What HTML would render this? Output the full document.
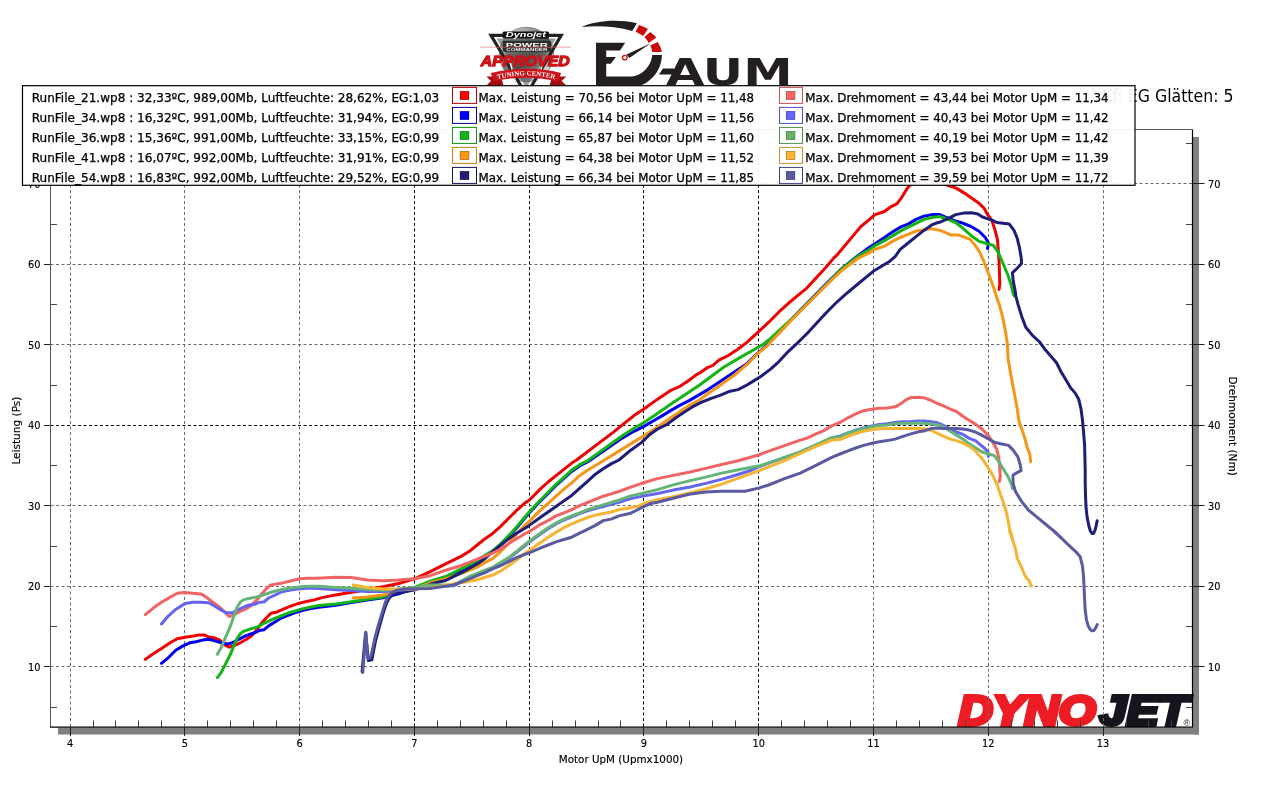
<!DOCTYPE html>
<html lang="de"><head><meta charset="utf-8"><title>Dynojet Leistungsdiagramm</title>
<style>html,body{margin:0;padding:0;background:#fff;overflow:hidden}svg{display:block}text{fill:#000}</style>
</head><body>
<svg width="1270" height="795" viewBox="0 0 1270 795" font-family="'DejaVu Sans Condensed','Liberation Sans',sans-serif">
<rect width="1270" height="795" fill="#fff"/>
<defs>
<linearGradient id="chrome" x1="0" y1="0" x2="1" y2="1">
<stop offset="0" stop-color="#f2f2f2"/><stop offset="0.3" stop-color="#9a9a9a"/><stop offset="0.55" stop-color="#555"/><stop offset="0.8" stop-color="#c8c8c8"/><stop offset="1" stop-color="#eee"/>
</linearGradient>
<path id="ribbonArc" d="M493.5 80.2 Q526.3 70.6 559 80.2"/>
<clipPath id="aboveLegend"><rect x="0" y="0" width="1270" height="85.4"/></clipPath>
</defs>
<g id="badge" clip-path="url(#aboveLegend)" aria-label="Dynojet Power Commander Approved Tuning Center">
<circle cx="526.5" cy="54.4" r="27.2" fill="url(#chrome)" stroke="#777" stroke-width="0.8"/>
<path d="M491 35.3H561.2L526.3 95Z" fill="none" stroke="#222" stroke-width="3.2" stroke-linejoin="miter"/>
<path d="M496.5 38.5H556L526.3 88Z" fill="#4a4a4a" fill-opacity="0.55"/>
<path d="M517 88L510 62M536 88L543 62" stroke="#eee" stroke-width="1.6" fill="none"/>
<rect x="502.6" y="31.6" width="46.4" height="6.8" rx="1.5" fill="#111"/>
<text x="525.8" y="37.1" font-family="'Liberation Sans',sans-serif" font-weight="bold" font-style="italic" font-size="6.4" text-anchor="middle" textLength="40" lengthAdjust="spacingAndGlyphs" style="fill:#fff">Dynojet</text>
<rect x="502.8" y="40.8" width="48.2" height="11" rx="1" fill="#2e2e2e"/>
<text x="526.8" y="46.6" font-family="'Liberation Sans',sans-serif" font-weight="bold" font-size="4.6" text-anchor="middle" textLength="42" lengthAdjust="spacingAndGlyphs" style="fill:#fff">POWER</text>
<text x="526.8" y="50.6" font-family="'Liberation Sans',sans-serif" font-weight="bold" font-size="3.4" text-anchor="middle" textLength="41" lengthAdjust="spacingAndGlyphs" style="fill:#eee">COMMANDER</text>
<path d="M480.2 47.2H571" stroke="#e26a6a" stroke-width="0.6"/>
<text x="480.8" y="65.6" font-family="'Liberation Sans',sans-serif" font-weight="bold" font-style="italic" font-size="15.5" textLength="89" lengthAdjust="spacingAndGlyphs" style="fill:#cd1219;stroke:#cd1219;stroke-width:1.3;stroke-linejoin:round">APPROVED</text>
<path d="M486.4 76.6H501L503.5 85.6H486.4L491 81Z" fill="#a30d12"/>
<path d="M566.3 76.6H552L549.5 85.6H566.3L561.6 81Z" fill="#a30d12"/>
<path d="M490.8 73C514 67.4 539 67.4 561 73L558.3 81.6C538 76.4 514 76.4 493.6 81.6Z" fill="#cd1219"/>
<text font-family="'Liberation Serif',serif" font-weight="bold" font-size="6.6" style="fill:#fff"><textPath href="#ribbonArc" startOffset="50%" text-anchor="middle" textLength="58" lengthAdjust="spacingAndGlyphs">TUNING CENTER</textPath></text>
</g>
<g id="daum" clip-path="url(#aboveLegend)" aria-label="Daum">
<path d="M581.7 26.9C595 21.3 615.5 18.4 636.9 23.3L632.3 31C615 26 598 25.6 581.7 26.9Z" fill="#231f20"/>
<path d="M639 25.1Q644 26.6 647.9 29.1L643.1 36.1Q640 33.6 635.6 31.7Z" fill="#cc0a0a"/>
<path d="M650.2 32Q653.8 34.6 656.4 37.6L648.7 43Q646.8 39.8 644.4 37.1Z" fill="#cc0a0a"/>
<path d="M657.7 41.9Q660.8 46.6 662 52H652.3Q651.8 48.6 650.2 45.6Z" fill="#cc0a0a"/>
<path d="M596 42.8H625.2L620 50.4H606.2V57.1H615.9L610.8 63.7H606.2V76.5H632.3C641 75.6 651.3 67 652.3 55H662C661.6 66.5 656 76.5 646.5 82.4C642 85.2 638 86.6 632 87.4H596Z" fill="#231f20"/>
<path d="M650.7 43.3L626.5 54.6L629.4 57.9Z" fill="#231f20"/>
<circle cx="624.8" cy="57.6" r="2.3" fill="#fff" stroke="#cc0a0a" stroke-width="1.3"/>
<path d="M658.9 74.4L663 68.6H674V74.4Z" fill="#231f20"/>
<text x="666" y="84.9" font-family="'DejaVu Sans','Liberation Sans',sans-serif" font-weight="bold" font-size="37" textLength="126.5" lengthAdjust="spacingAndGlyphs" style="fill:#231f20">AUM</text>
</g>

<text x="1102.3" y="102.4" font-size="17.2" textLength="131.2" lengthAdjust="spacingAndGlyphs">Kf: EG Glätten: 5</text>
<rect x="1193" y="137" width="6" height="597.5" fill="#808080"/>
<rect x="58" y="727.6" width="1141" height="6.9" fill="#808080"/>
<rect x="50.5" y="129.5" width="1142.0" height="597.6" fill="#fff"/>
<g id="dynojet" font-family="'Liberation Sans',sans-serif" font-weight="bold" font-style="italic" font-size="41.8" stroke-linejoin="miter">
<text x="958.4" y="725.0" textLength="137.5" lengthAdjust="spacingAndGlyphs" style="fill:#ed1c24;stroke:#ed1c24;stroke-width:4">DYNO</text>
<text x="1099.6" y="725.0" textLength="88.5" lengthAdjust="spacingAndGlyphs" style="fill:#15151d;stroke:#15151d;stroke-width:4">JET</text>
<text x="1183.6" y="725.6" font-size="9" font-style="normal" font-weight="normal" style="fill:#15151d">®</text>
</g>

<g stroke-width="1" stroke-dasharray="3 2.5" fill="none"><line x1="70.5" y1="129.5" x2="70.5" y2="727.1" stroke="#6c6c6c"/><line x1="184.5" y1="129.5" x2="184.5" y2="727.1" stroke="#6c6c6c"/><line x1="299.5" y1="129.5" x2="299.5" y2="727.1" stroke="#6c6c6c"/><line x1="414.5" y1="129.5" x2="414.5" y2="727.1" stroke="#000"/><line x1="529.5" y1="129.5" x2="529.5" y2="727.1" stroke="#000"/><line x1="643.5" y1="129.5" x2="643.5" y2="727.1" stroke="#000"/><line x1="758.5" y1="129.5" x2="758.5" y2="727.1" stroke="#000"/><line x1="873.5" y1="129.5" x2="873.5" y2="727.1" stroke="#6c6c6c"/><line x1="988.5" y1="129.5" x2="988.5" y2="727.1" stroke="#6c6c6c"/><line x1="1103.5" y1="129.5" x2="1103.5" y2="727.1" stroke="#6c6c6c"/><line x1="50.5" y1="666.5" x2="1192.5" y2="666.5" stroke="#6c6c6c"/><line x1="50.5" y1="586.5" x2="1192.5" y2="586.5" stroke="#6c6c6c"/><line x1="50.5" y1="505.5" x2="1192.5" y2="505.5" stroke="#6c6c6c"/><line x1="50.5" y1="425.5" x2="1192.5" y2="425.5" stroke="#000"/><line x1="50.5" y1="344.5" x2="1192.5" y2="344.5" stroke="#6c6c6c"/><line x1="50.5" y1="264.5" x2="1192.5" y2="264.5" stroke="#6c6c6c"/><line x1="50.5" y1="183.5" x2="1192.5" y2="183.5" stroke="#6c6c6c"/></g>
<path d="M93.5 727.1V720.4M115.5 727.1V720.4M138.5 727.1V720.4M161.5 727.1V720.4M207.5 727.1V720.4M230.5 727.1V720.4M253.5 727.1V720.4M276.5 727.1V720.4M322.5 727.1V720.4M345.5 727.1V720.4M368.5 727.1V720.4M391.5 727.1V720.4M437.5 727.1V720.4M460.5 727.1V720.4M483.5 727.1V720.4M506.5 727.1V720.4M552.5 727.1V720.4M575.5 727.1V720.4M598.5 727.1V720.4M620.5 727.1V720.4M666.5 727.1V720.4M689.5 727.1V720.4M712.5 727.1V720.4M735.5 727.1V720.4M781.5 727.1V720.4M804.5 727.1V720.4M827.5 727.1V720.4M850.5 727.1V720.4M896.5 727.1V720.4M919.5 727.1V720.4M942.5 727.1V720.4M965.5 727.1V720.4M1011.5 727.1V720.4M1034.5 727.1V720.4M1057.5 727.1V720.4M1080.5 727.1V720.4M1126.5 727.1V720.4M1148.5 727.1V720.4M1171.5 727.1V720.4M50.5 707.5H57.0M1192.5 707.5H1186.0M50.5 626.5H57.0M1192.5 626.5H1186.0M50.5 546.5H57.0M1192.5 546.5H1186.0M50.5 465.5H57.0M1192.5 465.5H1186.0M50.5 385.5H57.0M1192.5 385.5H1186.0M50.5 304.5H57.0M1192.5 304.5H1186.0M50.5 224.5H57.0M1192.5 224.5H1186.0M50.5 143.5H57.0M1192.5 143.5H1186.0" stroke="#444" stroke-width="1" fill="none"/>
<path d="M70.5 727.1V736.1M184.5 727.1V736.1M299.5 727.1V736.1M414.5 727.1V736.1M529.5 727.1V736.1M643.5 727.1V736.1M758.5 727.1V736.1M873.5 727.1V736.1M988.5 727.1V736.1M1103.5 727.1V736.1M44.0 666.5H50.5M1192.5 666.5H1204.5M44.0 586.5H50.5M1192.5 586.5H1204.5M44.0 505.5H50.5M1192.5 505.5H1204.5M44.0 425.5H50.5M1192.5 425.5H1204.5M44.0 344.5H50.5M1192.5 344.5H1204.5M44.0 264.5H50.5M1192.5 264.5H1204.5M44.0 183.5H50.5M1192.5 183.5H1204.5" stroke="#222" stroke-width="1" fill="none"/>
<g fill="none" stroke-width="3.0" stroke-linejoin="round" stroke-linecap="round">
<path d="M145.3 659.4L153.6 653.5L161.5 648.4L169.4 643.2L177.2 638.8L185.1 637.2L193.0 636.1L199.3 634.9L204.0 634.9L208.7 636.9L215.0 638.0L219.8 640.1L224.5 644.8L229.2 647.2L233.9 645.6L240.2 642.8L246.5 639.3L251.3 636.1L256.0 630.6L260.7 624.3L265.4 618.8L270.9 613.3L276.5 612.2L282.8 609.4L290.6 606.2L298.5 603.4L306.4 601.5L314.3 599.9L322.1 597.6L335.7 594.9L351.5 592.2L367.2 589.8L383.0 586.7L398.7 583.5L414.5 578.8L430.2 571.7L445.7 563.9L461.5 556.1L469.4 551.3L477.2 545.0L485.1 538.7L493.0 533.2L500.9 526.1L508.7 518.3L516.6 510.4L524.5 503.3L529.2 500.2L540.2 489.1L548.1 482.0L556.0 475.7L563.9 469.4L571.7 463.1L576.5 460.0L613.5 432.1L623.0 424.3L634.0 415.6L643.5 409.3L654.5 401.4L662.4 395.9L670.2 390.7L679.7 386.5L689.1 380.2L695.4 375.4L700.0 372.8L707.9 367.3L712.6 365.7L718.9 360.2L728.3 355.5L737.8 349.2L747.2 342.1L758.3 331.9L767.7 323.2L778.7 312.2L788.2 303.5L797.6 295.7L807.1 287.8L816.5 277.6L826.0 267.3L833.9 257.9L837.2 254.8L845.1 245.4L853.0 235.9L860.9 226.5L868.7 220.2L875.0 214.6L884.5 211.5L890.8 206.8L897.1 203.6L901.8 197.3L906.5 189.4L909.7 185.5L914.0 182.3L921.0 180.0L929.0 178.9L937.0 180.2L943.0 183.0L947.9 185.5L955.7 187.9L963.6 192.6L971.5 198.1L979.4 203.6L984.1 208.3L987.2 213.9L992.0 220.9L995.1 230.4L997.5 239.8L998.3 250.9L999.1 261.9L999.5 274.5L999.8 283.9L999.1 289.4" stroke="#f00000"/>
<path d="M161.5 663.4L167.8 658.2L175.7 650.3L183.5 645.6L189.8 642.8L196.1 641.7L202.4 640.1L208.7 639.3L215.0 640.9L221.3 642.8L227.6 644.0L232.4 642.8L238.7 639.3L245.0 636.1L249.7 634.3L254.4 633.0L259.1 630.6L263.9 629.8L268.6 625.9L274.9 622.0L281.2 618.0L287.5 615.7L295.4 612.5L303.2 610.2L311.1 608.6L319.0 607.3L335.7 605.3L351.5 602.4L367.2 600.1L383.0 597.7L398.7 593.8L414.5 588.3L430.2 582.0L445.7 577.6L461.5 569.8L477.2 561.9L485.1 556.4L493.0 551.7L500.9 544.6L508.7 536.7L516.6 528.0L524.5 518.6L529.2 513.1L540.2 501.3L548.1 493.4L556.0 485.5L563.9 478.4L571.7 471.5L579.6 466.0L587.5 462.0L623.0 437.6L634.0 431.3L643.5 426.6L654.5 420.3L662.4 415.6L670.2 410.9L679.7 405.4L689.1 400.6L698.6 395.1L708.0 389.6L717.5 383.3L726.9 377.0L729.9 375.0L747.2 363.4L758.3 352.7L767.7 344.5L778.7 333.0L794.5 316.1L810.2 300.1L826.0 284.0L841.7 268.6L857.5 256.0L868.7 247.7L875.0 243.8L884.5 237.5L892.4 232.0L900.2 227.2L908.1 224.1L916.0 219.4L923.9 216.2L931.7 214.6L939.6 214.6L947.5 217.8L955.4 220.9L963.2 223.3L971.1 226.5L979.0 231.2L985.3 237.5L988.4 243.0L987.6 248.5" stroke="#0000f0"/>
<path d="M217.4 677.6L221.3 672.4L226.1 662.9L230.8 653.5L233.9 645.6L237.1 638.5L240.2 633.8L243.4 631.4L249.7 629.1L256.0 627.5L263.9 623.5L271.7 619.6L279.6 616.5L287.5 613.3L295.4 610.9L303.2 608.6L311.1 607.0L319.0 605.4L335.7 604.0L351.5 601.7L367.2 599.3L383.0 596.9L387.7 595.4L398.7 592.2L414.5 587.5L430.2 581.2L445.7 576.5L461.5 568.7L477.2 560.8L485.1 555.3L493.0 550.6L500.9 543.5L508.7 535.6L516.6 526.9L524.5 517.5L529.2 512.0L540.2 500.2L548.1 492.3L556.0 484.4L563.9 477.3L571.7 470.2L579.6 464.7L587.5 460.8L623.0 435.3L634.0 428.2L643.5 422.7L654.5 415.6L662.4 410.1L670.2 404.6L679.7 398.3L689.1 392.0L698.6 385.7L723.6 367.3L739.4 357.9L752.0 350.8L763.0 344.5L770.9 338.2L778.7 330.8L786.6 323.7L794.5 316.5L810.2 300.7L826.0 285.0L841.7 268.9L857.5 256.6L868.7 250.1L875.0 245.8L884.5 240.6L892.4 235.9L900.2 231.2L908.1 227.2L916.0 223.3L923.9 219.4L931.7 217.5L939.6 216.5L947.9 219.4L955.7 222.5L963.6 228.8L971.5 235.9L979.4 241.4L987.2 243.8L993.5 245.4L998.3 252.4L1003.0 263.5L1007.7 274.5L1010.9 283.9L1013.2 293.4L1014.2 296.0" stroke="#14b414"/>
<path d="M353.1 598.0L367.2 596.9L383.0 594.9L387.7 593.8L398.7 591.7L414.5 588.6L430.2 582.8L445.7 578.9L461.5 573.4L477.2 567.1L485.1 562.4L493.0 558.4L500.9 551.3L508.7 543.5L516.6 534.0L524.5 525.4L529.2 521.4L540.2 510.4L548.1 503.3L556.0 496.2L563.9 489.1L571.7 482.8L579.6 475.7L587.5 470.2L595.4 465.5L603.2 460.8L630.7 443.9L643.5 436.1L654.5 429.0L662.4 423.5L670.2 418.0L679.7 411.7L689.1 405.4L698.6 400.6L708.0 393.5L717.5 387.2L726.9 380.2L734.6 375.0L747.2 364.2L758.3 353.1L767.7 345.3L778.7 333.5L794.5 316.9L810.2 301.2L826.0 285.4L841.7 270.5L857.5 258.7L868.7 253.2L875.0 249.3L884.5 246.1L892.4 241.4L900.2 237.5L908.1 234.3L916.0 231.2L923.9 229.6L931.7 228.8L940.0 230.4L946.3 232.8L951.0 235.1L958.9 235.1L965.2 237.5L969.9 239.1L974.6 244.6L979.4 251.7L984.1 261.9L988.8 274.5L993.5 287.1L997.5 299.7L995.9 295.0L999.8 306.0L1003.0 318.6L1005.4 331.2L1007.4 343.8L1008.0 358.0L1010.1 370.6L1012.4 383.2L1014.8 395.8L1017.2 408.4L1018.7 420.0L1021.9 429.4L1025.0 438.9L1027.4 448.3L1029.8 453.9L1030.6 461.7" stroke="#f59619"/>
<path d="M362.1 671.7L365.6 633.0L368.4 660.6L371.8 659.9L375.5 641.0L379.5 626.0L383.5 612.0L386.5 603.0L389.5 597.5L393.5 594.0L399.0 592.5L406.0 591.5L414.0 590.0L430.2 584.3L438.1 582.3L445.7 580.5L461.5 572.6L477.2 563.9L485.1 558.4L493.0 551.3L500.9 545.0L508.7 538.7L516.6 533.2L524.5 528.5L529.2 525.4L540.2 517.5L548.1 512.0L556.0 506.5L563.9 500.9L571.7 495.4L579.6 488.3L587.5 481.3L595.4 474.2L603.2 468.7L611.1 463.9L619.0 460.0L630.7 450.2L641.7 442.4L649.8 434.5L657.6 429.0L667.1 424.3L676.5 417.2L686.0 410.9L692.3 406.9L701.7 402.2L711.2 398.3L720.6 395.1L730.1 391.2L738.0 389.6L745.8 385.7L753.7 380.9L760.0 377.0L770.9 368.9L778.7 361.8L788.2 351.6L797.6 342.9L807.1 333.5L816.5 323.2L826.0 313.0L835.4 303.5L844.9 294.9L854.3 287.0L863.8 279.1L873.2 271.3L881.1 266.5L889.0 261.8L895.3 256.3L900.2 249.3L908.1 243.0L916.0 236.7L923.9 230.4L931.7 224.9L938.0 222.5L940.0 222.2L947.9 218.6L955.7 214.6L963.6 213.1L971.5 212.8L977.8 213.9L982.5 217.0L987.2 218.6L992.0 220.2L996.7 222.5L1003.0 223.3L1009.3 224.1L1014.0 230.4L1017.2 238.3L1019.5 247.7L1021.1 257.2L1021.6 263.5L1017.2 268.2L1012.4 272.9L1013.2 280.8L1015.6 293.4L1015.6 295.0L1018.0 304.4L1021.9 317.0L1025.8 327.3L1032.9 335.9L1039.2 341.5L1045.5 350.1L1051.8 357.2L1056.5 362.7L1061.3 372.2L1066.0 380.0L1070.7 387.9L1075.4 393.4L1078.6 398.9L1080.9 408.4L1082.5 420.0L1083.6 432.6L1084.6 445.2L1084.9 457.8L1085.2 470.4L1085.2 483.0L1085.5 495.6L1086.1 508.2L1087.2 517.6L1088.8 525.5L1090.4 531.0L1092.0 533.4L1093.5 533.4L1095.1 530.2L1096.2 525.5L1097.2 520.8" stroke="#1e1e78"/>
<path d="M145.3 614.6L153.6 607.8L161.5 602.3L169.4 597.6L177.2 593.3L184.3 592.4L193.0 593.3L200.9 593.9L205.6 596.8L211.9 601.5L218.2 606.2L224.5 611.7L229.2 616.5L233.9 614.9L240.2 611.3L246.5 608.6L251.3 605.4L256.0 600.7L260.7 595.2L265.4 589.7L270.2 585.3L276.5 583.9L282.8 582.9L290.6 581.0L298.5 579.0L306.4 578.2L314.3 578.3L322.1 577.9L335.7 577.2L351.5 577.6L367.2 580.1L383.0 580.7L398.7 580.1L414.5 578.8L430.2 575.7L445.7 570.2L461.5 565.5L469.4 562.4L477.2 559.2L485.1 556.1L493.0 552.9L500.9 549.0L508.7 543.5L516.6 538.7L524.5 534.0L529.2 531.7L540.2 524.6L548.1 520.6L556.0 515.9L563.9 512.8L571.7 509.6L579.6 505.7L587.5 502.5L595.4 499.4L603.2 496.2L611.1 493.9L619.0 491.5L630.7 487.2L641.7 483.3L657.5 478.6L673.2 475.4L689.0 472.3L705.7 468.4L721.5 464.5L737.2 461.0L758.5 455.0L768.7 451.1L784.5 445.6L800.2 440.1L808.1 437.7L816.0 433.8L823.9 430.6L831.7 425.9L840.0 422.5L847.9 417.8L855.7 413.9L863.6 410.7L873.1 409.1L879.4 408.3L887.2 408.0L895.1 406.8L899.8 404.4L906.1 399.7L910.9 397.6L918.7 397.3L925.0 398.1L931.3 400.5L937.6 403.6L943.9 406.0L950.2 409.1L956.5 411.5L962.8 416.2L969.1 420.2L975.4 424.1L981.7 428.8L988.0 435.1L992.8 442.2L996.7 449.3L998.7 457.2L999.8 468.2L1000.3 476.1L999.4 481.6" stroke="#f06464"/>
<path d="M161.5 624.0L167.8 616.5L175.7 609.4L185.1 603.4L193.0 602.3L200.9 602.3L208.7 602.8L215.0 606.2L221.3 610.2L226.1 612.8L232.4 612.8L238.7 609.4L245.0 606.5L249.7 605.0L254.4 604.3L259.1 602.3L263.9 602.0L268.6 598.0L274.9 595.2L281.2 592.0L287.5 590.5L295.4 589.2L303.2 588.6L311.1 588.1L319.0 588.4L335.7 589.8L351.5 590.6L367.2 591.4L383.0 591.4L398.7 590.6L414.5 588.6L430.2 586.4L453.6 585.8L469.4 577.5L477.2 574.3L485.1 571.2L493.0 568.0L500.9 563.3L508.7 558.6L516.6 552.3L524.5 546.0L529.2 542.0L540.2 534.2L548.1 528.7L556.0 523.9L563.9 520.0L571.7 516.9L579.6 513.7L587.5 510.9L595.4 508.5L603.2 506.5L611.1 504.3L619.0 502.2L630.7 498.6L641.7 496.4L657.5 493.5L673.2 490.1L689.0 487.2L705.7 483.4L721.5 479.4L737.2 474.7L749.8 470.8L758.5 466.9L768.7 463.2L784.5 457.7L800.2 452.2L816.0 445.1L831.7 438.0L840.0 435.9L847.9 432.8L855.7 430.1L863.6 428.0L873.1 425.7L879.4 424.4L887.2 423.8L895.1 422.5L903.0 421.7L910.9 421.4L918.7 420.9L925.0 420.9L931.3 421.7L937.6 422.8L943.9 425.7L950.2 428.8L956.5 432.0L962.8 434.3L969.1 438.3L975.4 440.6L980.2 444.6L984.9 448.5L988.0 451.7L988.3 456.4" stroke="#6464f0"/>
<path d="M217.4 654.3L221.3 647.2L226.1 636.1L230.8 625.1L233.9 615.7L237.1 607.0L240.2 602.3L243.4 599.9L249.7 598.3L256.0 597.1L263.9 594.9L271.7 592.0L279.6 590.0L287.5 588.6L295.4 587.6L303.2 586.5L311.1 586.2L319.0 586.2L335.7 587.5L351.5 588.3L367.2 589.5L383.0 590.2L398.7 589.1L414.5 587.5L430.2 585.1L453.6 585.0L469.4 576.5L477.2 573.4L485.1 570.2L493.0 567.1L500.9 562.4L508.7 557.6L516.6 551.3L524.5 545.0L529.2 541.1L540.2 533.2L548.1 527.7L556.0 523.0L563.9 519.1L571.7 515.9L579.6 512.8L587.5 509.6L595.4 507.2L603.2 504.9L611.1 502.5L619.0 500.2L630.7 495.9L641.7 493.5L657.5 489.6L673.2 484.9L689.0 480.9L705.7 477.1L721.5 473.1L737.2 470.0L758.5 466.1L768.7 462.9L784.5 457.4L800.2 451.9L816.0 444.8L831.7 437.7L840.0 436.7L847.9 433.2L855.7 430.7L863.6 428.5L873.1 426.5L879.4 425.4L887.2 424.9L895.1 423.8L903.0 423.3L910.9 423.3L918.7 423.0L925.0 423.6L931.3 424.1L937.6 424.9L943.9 426.9L950.2 431.2L956.5 435.1L962.8 439.1L969.1 443.8L975.4 447.7L981.7 451.7L988.0 453.7L994.3 455.6L999.1 461.9L1003.8 469.8L1008.5 477.6L1011.7 484.7L1012.6 488.7" stroke="#64b478"/>
<path d="M353.1 585.1L367.2 587.5L383.0 589.1L390.9 589.1L398.7 589.5L414.5 589.1L430.2 588.0L469.4 581.3L477.2 579.7L485.1 577.3L493.0 575.0L500.9 571.0L508.7 565.5L516.6 560.0L524.5 553.7L529.2 550.6L540.2 542.7L548.1 537.2L556.0 532.4L563.9 527.7L571.7 523.8L579.6 520.6L587.5 517.5L595.4 515.1L603.2 513.5L611.1 512.0L619.0 509.6L630.7 507.7L638.6 506.1L644.9 503.0L657.5 499.8L673.2 496.7L689.0 493.2L705.7 488.9L721.5 484.2L737.2 478.7L758.5 470.8L768.7 466.9L784.5 460.6L800.2 453.5L816.0 446.4L831.7 440.1L840.0 439.5L847.9 436.4L855.7 433.5L863.6 431.2L873.1 429.6L879.4 428.8L887.2 428.5L895.1 428.5L903.0 428.5L910.9 428.5L918.7 428.5L925.0 428.8L931.3 430.4L937.6 433.5L943.9 436.4L950.2 439.1L956.5 440.6L962.8 443.0L969.1 446.1L975.4 450.9L980.2 456.4L984.9 462.7L989.6 469.8L993.5 476.9L997.5 485.5L1000.6 495.0L1003.8 503.5L1006.9 514.5L1009.3 527.1L1012.4 538.1L1009.3 530.0L1012.4 539.4L1015.6 548.9L1017.2 558.3L1021.1 566.2L1025.0 575.7L1029.8 582.0L1031.3 585.9" stroke="#f5b432"/>
<path d="M362.8 672.4L365.9 632.2L367.7 658.5L371.1 655.8L374.6 639.2L378.7 623.9L382.9 610.1L385.6 601.8L388.4 596.3L392.6 592.1L398.1 590.0L406.4 589.1L414.7 588.7L430.2 588.6L453.6 585.0L461.5 582.0L469.4 578.9L477.2 575.7L485.1 572.6L493.0 568.7L500.9 565.5L508.7 561.6L516.6 557.6L524.5 554.5L529.2 552.9L540.2 548.2L548.1 545.0L556.0 541.9L563.9 539.5L571.7 537.2L579.6 533.2L587.5 529.3L595.4 525.4L603.2 520.6L611.1 519.1L619.0 515.9L630.7 513.2L641.7 507.7L649.6 503.8L657.5 502.2L673.2 498.3L689.0 494.3L705.7 492.0L721.5 491.3L745.1 491.3L758.5 488.1L768.7 485.0L784.5 478.7L800.2 473.1L816.0 465.3L831.7 457.4L840.0 454.0L847.9 450.9L855.7 448.0L863.6 445.4L873.1 443.0L879.4 441.7L887.2 440.6L895.1 439.1L903.0 436.4L910.9 433.9L918.7 431.7L925.0 430.7L931.3 428.5L937.6 428.0L943.9 428.5L950.2 428.5L956.5 428.5L962.8 429.1L969.1 430.1L975.4 432.0L981.7 435.1L988.0 438.6L994.3 442.2L1000.6 443.8L1008.5 445.4L1013.2 450.1L1018.0 457.2L1020.3 465.0L1021.1 470.6L1016.4 472.9L1012.9 475.3L1013.2 483.9L1015.6 491.8L1019.5 498.1L1021.9 501.9L1028.2 509.8L1037.6 517.6L1047.1 525.5L1055.0 531.8L1061.3 538.1L1052.6 530.0L1059.7 536.3L1067.6 544.2L1075.4 551.3L1080.2 556.8L1082.5 566.2L1083.6 577.2L1084.1 588.3L1084.6 599.3L1085.2 610.3L1086.5 619.8L1088.0 625.3L1089.9 629.2L1092.0 630.8L1094.0 630.5L1095.6 628.0L1097.2 624.5" stroke="#5a5aa0"/>
</g>
<path d="M50.5 129.5H1192.5" stroke="#333" stroke-width="0.8" fill="none"/>
<path d="M50.5 129.5V727.1" stroke="#555" stroke-width="1" fill="none"/>
<path d="M1192.5 129.5V727.1" stroke="#000" stroke-width="1.2" fill="none"/>
<path d="M50.0 727.1H1193.1" stroke="#000" stroke-width="1.4" fill="none"/>
<g font-size="10.9" stroke="#000" stroke-width="0.15">
<text x="70.0" y="747.2" text-anchor="middle">4</text>
<text x="184.8" y="747.2" text-anchor="middle">5</text>
<text x="299.6" y="747.2" text-anchor="middle">6</text>
<text x="414.4" y="747.2" text-anchor="middle">7</text>
<text x="529.2" y="747.2" text-anchor="middle">8</text>
<text x="643.9" y="747.2" text-anchor="middle">9</text>
<text x="758.7" y="747.2" text-anchor="middle">10</text>
<text x="873.5" y="747.2" text-anchor="middle">11</text>
<text x="988.3" y="747.2" text-anchor="middle">12</text>
<text x="1103.1" y="747.2" text-anchor="middle">13</text>
<text x="40.5" y="670.9" text-anchor="end">10</text>
<text x="1208" y="670.9">10</text>
<text x="40.5" y="590.4" text-anchor="end">20</text>
<text x="1208" y="590.4">20</text>
<text x="40.5" y="509.9" text-anchor="end">30</text>
<text x="1208" y="509.9">30</text>
<text x="40.5" y="429.4" text-anchor="end">40</text>
<text x="1208" y="429.4">40</text>
<text x="40.5" y="348.9" text-anchor="end">50</text>
<text x="1208" y="348.9">50</text>
<text x="40.5" y="268.4" text-anchor="end">60</text>
<text x="1208" y="268.4">60</text>
<text x="40.5" y="187.9" text-anchor="end">70</text>
<text x="1208" y="187.9">70</text>
<text x="558.8" y="763" textLength="124.3" lengthAdjust="spacingAndGlyphs">Motor UpM (Upmx1000)</text>
<text transform="translate(19.5 464.6) rotate(-90)" textLength="68" lengthAdjust="spacingAndGlyphs">Leistung (Ps)</text>
<text transform="translate(1228.5 376.5) rotate(90)" textLength="99.4" lengthAdjust="spacingAndGlyphs">Drehmoment (Nm)</text>
</g>
<rect x="22.5" y="85.7" width="1112.5" height="99.6" fill="#fff" fill-opacity="0.93" stroke="#000" stroke-width="1.2"/>
<g font-size="12.1" stroke="#000" stroke-width="0.25">
<text x="31.8" y="102.0" textLength="407.5" lengthAdjust="spacingAndGlyphs">RunFile_21.wp8 : 32,33ºC, 989,00Mb, Luftfeuchte: 28,62%, EG:1,03</text>
<rect x="452.5" y="87.4" width="24" height="16" fill="#fff" stroke="#c00000" stroke-width="1"/>
<rect x="460" y="91.2" width="9" height="8.6" fill="#ff0000"/>
<text x="478.6" y="102.0" textLength="275.5" lengthAdjust="spacingAndGlyphs">Max. Leistung = 70,56 bei Motor UpM = 11,48</text>
<rect x="779.5" y="87.4" width="23" height="16" fill="#fff" stroke="#d05050" stroke-width="1"/>
<rect x="786.1" y="91.2" width="8.9" height="8.6" fill="#ff6464"/>
<text x="805.3" y="102.0" textLength="303.3" lengthAdjust="spacingAndGlyphs">Max. Drehmoment = 43,44 bei Motor UpM = 11,34</text>
<text x="31.8" y="121.9" textLength="407.5" lengthAdjust="spacingAndGlyphs">RunFile_34.wp8 : 16,32ºC, 991,00Mb, Luftfeuchte: 31,94%, EG:0,99</text>
<rect x="452.5" y="107.4" width="24" height="16" fill="#fff" stroke="#0000a0" stroke-width="1"/>
<rect x="460" y="111.2" width="9" height="8.6" fill="#0000ff"/>
<text x="478.6" y="121.9" textLength="275.5" lengthAdjust="spacingAndGlyphs">Max. Leistung = 66,14 bei Motor UpM = 11,56</text>
<rect x="779.5" y="107.4" width="23" height="16" fill="#fff" stroke="#5050c0" stroke-width="1"/>
<rect x="786.1" y="111.2" width="8.9" height="8.6" fill="#6464ff"/>
<text x="805.3" y="121.9" textLength="303.3" lengthAdjust="spacingAndGlyphs">Max. Drehmoment = 40,43 bei Motor UpM = 11,42</text>
<text x="31.8" y="141.7" textLength="407.5" lengthAdjust="spacingAndGlyphs">RunFile_36.wp8 : 15,36ºC, 991,00Mb, Luftfeuchte: 33,15%, EG:0,99</text>
<rect x="452.5" y="127.4" width="24" height="16" fill="#fff" stroke="#109010" stroke-width="1"/>
<rect x="460" y="131.2" width="9" height="8.6" fill="#14b414"/>
<text x="478.6" y="141.7" textLength="275.5" lengthAdjust="spacingAndGlyphs">Max. Leistung = 65,87 bei Motor UpM = 11,60</text>
<rect x="779.5" y="127.4" width="23" height="16" fill="#fff" stroke="#509050" stroke-width="1"/>
<rect x="786.1" y="131.2" width="8.9" height="8.6" fill="#64b464"/>
<text x="805.3" y="141.7" textLength="303.3" lengthAdjust="spacingAndGlyphs">Max. Drehmoment = 40,19 bei Motor UpM = 11,42</text>
<text x="31.8" y="161.6" textLength="407.5" lengthAdjust="spacingAndGlyphs">RunFile_41.wp8 : 16,07ºC, 992,00Mb, Luftfeuchte: 31,91%, EG:0,99</text>
<rect x="452.5" y="147.4" width="24" height="16" fill="#fff" stroke="#d08010" stroke-width="1"/>
<rect x="460" y="151.2" width="9" height="8.6" fill="#ff9614"/>
<text x="478.6" y="161.6" textLength="275.5" lengthAdjust="spacingAndGlyphs">Max. Leistung = 64,38 bei Motor UpM = 11,52</text>
<rect x="779.5" y="147.4" width="23" height="16" fill="#fff" stroke="#d09028" stroke-width="1"/>
<rect x="786.1" y="151.2" width="8.9" height="8.6" fill="#ffb432"/>
<text x="805.3" y="161.6" textLength="303.3" lengthAdjust="spacingAndGlyphs">Max. Drehmoment = 39,53 bei Motor UpM = 11,39</text>
<text x="31.8" y="181.5" textLength="407.5" lengthAdjust="spacingAndGlyphs">RunFile_54.wp8 : 16,83ºC, 992,00Mb, Luftfeuchte: 29,52%, EG:0,99</text>
<rect x="452.5" y="167.4" width="24" height="16" fill="#fff" stroke="#141450" stroke-width="1"/>
<rect x="460" y="171.2" width="9" height="8.6" fill="#1e1e78"/>
<text x="478.6" y="181.5" textLength="275.5" lengthAdjust="spacingAndGlyphs">Max. Leistung = 66,34 bei Motor UpM = 11,85</text>
<rect x="779.5" y="167.4" width="23" height="16" fill="#fff" stroke="#404080" stroke-width="1"/>
<rect x="786.1" y="171.2" width="8.9" height="8.6" fill="#5a5aa0"/>
<text x="805.3" y="181.5" textLength="303.3" lengthAdjust="spacingAndGlyphs">Max. Drehmoment = 39,59 bei Motor UpM = 11,72</text>
</g>
</svg>
</body></html>
